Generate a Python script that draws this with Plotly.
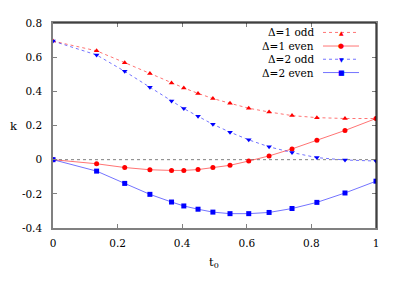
import plotly.graph_objects as go

t0 = [0, 0.135, 0.222, 0.30, 0.367, 0.405, 0.449, 0.495, 0.548, 0.606, 0.669, 0.74, 0.817, 0.904, 1.0]
d1_odd = [0.694, 0.637, 0.568, 0.505, 0.449, 0.420, 0.388, 0.358, 0.330, 0.301, 0.279, 0.258, 0.246, 0.241, 0.241]
d1_even = [0.0, -0.024, -0.046, -0.059, -0.063, -0.063, -0.058, -0.046, -0.033, -0.008, 0.022, 0.063, 0.114, 0.171, 0.241]
d2_odd = [0.694, 0.613, 0.517, 0.424, 0.343, 0.299, 0.254, 0.207, 0.161, 0.116, 0.075, 0.042, 0.012, -0.002, -0.008]
d2_even = [0.0, -0.067, -0.139, -0.203, -0.248, -0.271, -0.290, -0.307, -0.316, -0.316, -0.309, -0.286, -0.250, -0.195, -0.126]
names = ["Δ=1 odd", "Δ=1 even", "Δ=2 odd", "Δ=2 even"]
x_ticks = [0, 0.2, 0.4, 0.6, 0.8, 1]
x_ticklabels = ["0", "0.2", "0.4", "0.6", "0.8", "1"]
y_ticks = [-0.4, -0.2, 0, 0.2, 0.4, 0.6, 0.8]
y_ticklabels = ["-0.4", "-0.2", "0", "0.2", "0.4", "0.6", "0.8"]

RED = "#ff0000"
BLUE = "#0000ff"
RED_L = "rgba(255,0,0,0.55)"
BLUE_L = "rgba(0,0,255,0.55)"
FONT = "DejaVu Serif"
FS = 10.5

series = [
    (d1_odd, RED, RED_L, "dot", "triangle-up", 5, "▲", 6),
    (d1_even, RED, RED_L, "solid", "circle", 5, "●", 7),
    (d2_odd, BLUE, BLUE_L, "dot", "triangle-down", 5, "▼", 6),
    (d2_even, BLUE, BLUE_L, "solid", "square", 5, "■", 7),
]

fig = go.Figure()
for (vals, mc, lc, dash, sym, ms, glyph, gs), nm in zip(series, names):
    fig.add_trace(go.Scatter(
        x=t0, y=vals, name=nm, mode="lines+markers",
        line=dict(color=lc, width=1, dash=dash),
        marker=dict(color=mc, symbol=sym, size=ms, line=dict(width=0)),
        showlegend=False,
    ))

# page body has an 8px margin
OX, OY = 8, 8
W, H = 407 - OX, 285 - OY
L, R, T, B = 53 - OX, 31, 17 - OY, 57
pw, ph = W - L - R, H - T - B


def px(xp):
    return (xp - OX - L) / pw


def py(yp):
    return (H - B - (yp - OY)) / ph


shapes = []
annotations = []

shapes.append(dict(type="line", xref="x", yref="y", x0=0, x1=1, y0=0, y1=0,
                   line=dict(color="#808080", width=1, dash="dot"), layer="below"))
shapes.append(dict(type="line", xref="paper", yref="paper", x0=0, x1=1, y0=1, y1=1,
                   line=dict(color="black", width=1), layer="above"))
shapes.append(dict(type="line", xref="paper", yref="paper", x0=1, x1=1, y0=0, y1=1,
                   line=dict(color="black", width=1), layer="above"))

rows = [26.7, 40.7, 54.3, 68.0]
for (vals, mc, lc, dash, sym, ms, glyph, gs), nm, ry in zip(series, names, rows):
    annotations.append(dict(xref="paper", yref="paper", x=px(315), y=py(ry),
                            text=nm, showarrow=False, xanchor="right", yanchor="middle",
                            borderpad=0,
                            font=dict(family=FONT, size=FS, color="black")))
    shapes.append(dict(type="line", xref="paper", yref="paper", x0=px(323), x1=px(359),
                       y0=py(ry), y1=py(ry), line=dict(color=lc, width=1, dash=dash)))
    annotations.append(dict(xref="paper", yref="paper", x=px(341), y=py(ry),
                            text=glyph, showarrow=False, xanchor="center", yanchor="middle",
                            borderpad=0,
                            font=dict(family="DejaVu Sans", size=gs, color=mc)))

annotations.append(dict(xref="paper", yref="paper", x=px(13.5), y=py(122.5), text="k",
                        showarrow=False, xanchor="center", yanchor="middle",
                        font=dict(family=FONT, size=11.5, color="black")))
annotations.append(dict(xref="paper", yref="paper", x=px(214), y=py(263), text="t<sub>0</sub>",
                        showarrow=False, xanchor="center", yanchor="middle",
                        font=dict(family=FONT, size=11.5, color="black")))

fig.update_layout(
    width=W, height=H,
    margin=dict(l=L, r=R, t=T, b=B, pad=0),
    paper_bgcolor="white", plot_bgcolor="white",
    font=dict(family=FONT, size=FS, color="black"),
    shapes=shapes, annotations=annotations,
    xaxis=dict(range=[0, 1], tickvals=x_ticks, ticktext=x_ticklabels,
               showgrid=False, zeroline=False, showline=True, linecolor="#808080", linewidth=1.5,
               ticks="inside", ticklen=4, tickcolor="#808080", tickwidth=1, mirror="ticks",
               ticklabelstandoff=5),
    yaxis=dict(range=[-0.4, 0.8], tickvals=y_ticks, ticktext=y_ticklabels,
               showgrid=False, zeroline=False, showline=True, linecolor="#808080", linewidth=1.5,
               ticks="inside", ticklen=4, tickcolor="#808080", tickwidth=1, mirror="ticks",
               ticklabelstandoff=7),
)

fig.write_html("out.html")
